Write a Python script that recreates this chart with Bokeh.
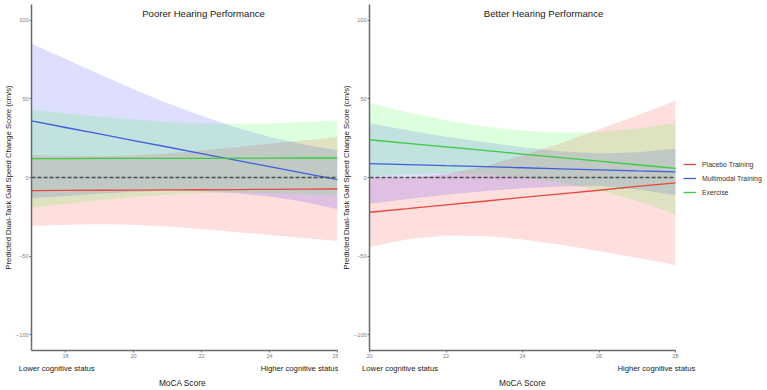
from bokeh.plotting import figure
from bokeh.layouts import row
from bokeh.models import Range1d, LinearAxis, FixedTicker, Label, Legend, LegendItem
from bokeh.embed import file_html
from bokeh.resources import INLINE

# ---------------- data ----------------
groups = ["Placebo Training", "Multimodal Training", "Exercise"]
y_ticks = [-100, -50, 0, 50, 100]
reference_level = 0

# Poorer hearing performance panel
moca_poor = [17, 18, 19, 20, 21, 22, 23, 24, 25, 26]
moca_poor_ticks = [18, 20, 22, 24, 26]
placebo_fit_poor = [-8.3, -8.2, -8.1, -8.0, -7.9, -7.8, -7.7, -7.5, -7.4, -7.3]
placebo_hi_poor = [14.3, 13.6, 13.5, 14.0, 15.3, 17.2, 19.3, 21.5, 23.6, 25.7]
placebo_lo_poor = [-30.9, -30.0, -29.7, -30.0, -31.1, -32.8, -34.7, -36.5, -38.4, -40.3]
multimodal_fit_poor = [36.0, 31.8, 27.7, 23.5, 19.4, 15.2, 11.0, 6.9, 2.8, -1.4]
multimodal_hi_poor = [85.2, 75.3, 65.7, 56.1, 47.2, 39.2, 32.0, 25.9, 21.0, 17.4]
multimodal_lo_poor = [-13.2, -11.7, -10.3, -9.1, -8.4, -8.8, -10.0, -12.1, -15.4, -20.2]
exercise_fit_poor = [12.0, 12.0, 12.1, 12.1, 12.2, 12.2, 12.3, 12.3, 12.4, 12.4]
exercise_hi_poor = [43.3, 40.8, 38.7, 36.8, 35.3, 34.3, 34.1, 34.4, 35.3, 36.4]
exercise_lo_poor = [-19.3, -16.8, -14.5, -12.6, -10.9, -9.9, -9.5, -9.8, -10.5, -11.6]

# Better hearing performance panel
moca_better = [20, 21, 22, 23, 24, 25, 26, 27, 28]
moca_better_ticks = [20, 22, 24, 26, 28]
placebo_fit_better = [-22.1, -19.8, -17.4, -15.1, -12.7, -10.4, -8.1, -5.7, -3.4]
placebo_hi_better = [0.0, -0.4, 2.0, 7.0, 14.0, 22.0, 30.6, 39.6, 48.8]
placebo_lo_better = [-44.2, -39.2, -36.8, -37.2, -39.4, -42.8, -46.8, -51.0, -55.6]
multimodal_fit_better = [8.8, 8.2, 7.5, 6.9, 6.2, 5.5, 4.9, 4.2, 3.6]
multimodal_hi_better = [34.5, 30.0, 25.9, 22.5, 19.3, 16.7, 15.2, 16.0, 18.3]
multimodal_lo_better = [-16.9, -13.6, -10.9, -8.7, -6.9, -5.7, -5.4, -7.6, -11.1]
exercise_fit_better = [24.0, 21.7, 19.5, 17.2, 14.9, 12.6, 10.4, 8.1, 5.8]
exercise_hi_better = [47.3, 41.3, 36.4, 32.4, 29.7, 28.6, 29.0, 31.1, 34.8]
exercise_lo_better = [0.7, 2.1, 2.6, 2.0, 0.1, -3.4, -8.2, -14.9, -23.2]

# ---------------- style ----------------
FONT = "Liberation Sans"
LINE_COLORS = ["#E8473C", "#3F5FDB", "#3CCB3C"]
FILL_COLORS = ["#FF0000", "#0000FF", "#00FF00"]
FILL_ALPHA = 0.13
Y_LABEL = "Predicted Dual-Task Gait Speed Change Score (cm/s)"


def text_axis(ticks, labels, standoff, size):
    ax = LinearAxis(ticker=FixedTicker(ticks=list(ticks)),
                    major_label_overrides=dict(zip(ticks, labels)))
    ax.axis_line_color = None
    ax.major_tick_line_color = None
    ax.minor_tick_line_color = None
    ax.major_tick_in = 0
    ax.major_tick_out = 0
    ax.major_label_standoff = standoff
    ax.major_label_text_font = FONT
    ax.major_label_text_font_size = size
    ax.major_label_text_color = "#1a1a1a"
    return ax


def make_panel(width, bl, br, xr, xbounds, xticks, status_pos, xlabel_pos,
               title, title_x, x, series):
    p = figure(width=width, height=390, x_range=Range1d(*xr), y_range=Range1d(-110, 110),
               output_backend="svg", toolbar_location=None,
               min_border_left=bl, min_border_right=br, min_border_top=4, min_border_bottom=37)
    p.outline_line_color = None
    p.xgrid.visible = False
    p.ygrid.visible = False
    p.background_fill_color = "white"
    p.border_fill_color = "white"

    # main axes
    for ax in (p.xaxis[0], p.yaxis[0]):
        ax.axis_line_color = "#6a6a6a"
        ax.axis_line_width = 1.5
        ax.major_tick_line_color = "#6a6a6a"
        ax.major_tick_in = 0
        ax.major_tick_out = 2
        ax.minor_tick_line_color = None
        ax.major_label_text_font = FONT
        ax.major_label_text_font_size = "5.5px"
        ax.major_label_text_color = "#7a7a7a"
        ax.major_label_standoff = 1
        ax.axis_label_text_font = FONT
        ax.axis_label_text_font_style = "normal"
        ax.axis_label_text_color = "#1a1a1a"
    p.xaxis[0].ticker = FixedTicker(ticks=xticks)
    p.xaxis[0].bounds = xbounds
    p.yaxis[0].ticker = FixedTicker(ticks=y_ticks)
    p.yaxis[0].major_label_standoff = 1
    p.yaxis[0].axis_label = Y_LABEL
    p.yaxis[0].axis_label_text_font_size = "7.7px"
    p.yaxis[0].axis_label_standoff = 0

    # extra bottom rows: cognitive status texts, then the axis title
    p.add_layout(text_axis(status_pos, ["Lower cognitive status", "Higher cognitive status"],
                           3, "7.7px"), "below")
    p.add_layout(text_axis([xlabel_pos], ["MoCA Score"], 2, "8.3px"), "below")

    areas, lines = [], []
    for (fit, lo, hi), lc, fc in zip(series, LINE_COLORS, FILL_COLORS):
        areas.append(p.varea(x=x, y1=lo, y2=hi, fill_color=fc, fill_alpha=FILL_ALPHA))
    for (fit, lo, hi), lc, fc in zip(series, LINE_COLORS, FILL_COLORS):
        lines.append(p.line(x=x, y=fit, line_color=lc, line_width=1.3))

    # dashed zero reference across the panel's data range
    p.line(x=[xbounds[0], xbounds[1]], y=[reference_level, reference_level],
           line_color="#4d4d4d", line_dash="4 2", line_width=1.3)

    p.add_layout(Label(x=title_x, y=104, text=title, text_align="center",
                       text_baseline="middle", text_font=FONT, text_font_size="9.6px",
                       text_color="#1a1a1a"))
    return p, areas, lines


p1, _, _ = make_panel(
    338, 31, 1, (17, 26), (17, 26), moca_poor_ticks, (17.74, 24.9), 21.44,
    "Poorer Hearing Performance", 22.06, moca_poor,
    [(placebo_fit_poor, placebo_lo_poor, placebo_hi_poor),
     (multimodal_fit_poor, multimodal_lo_poor, multimodal_hi_poor),
     (exercise_fit_poor, exercise_lo_poor, exercise_hi_poor)])

# right panel: frame extends to the canvas edge so the legend sits inside it;
# the axis line is bounded to the data range 20..28
p2, areas2, lines2 = make_panel(
    429, 31, 0, (20, 30.405), (20, 28), moca_better_ticks, (20.8, 27.5), 24,
    "Better Hearing Performance", 24.55, moca_better,
    [(placebo_fit_better, placebo_lo_better, placebo_hi_better),
     (multimodal_fit_better, multimodal_lo_better, multimodal_hi_better),
     (exercise_fit_better, exercise_lo_better, exercise_hi_better)])

# legend keys: a light filled box (ribbon) with the fitted line across it
items = []
for g, fc, l in zip(groups, FILL_COLORS, lines2):
    box = p2.quad(left=[], right=[], top=[], bottom=[], fill_color=fc,
                  fill_alpha=FILL_ALPHA, line_color=None)
    items.append(LegendItem(label=g, renderers=[box, l]))
legend = Legend(items=items, location=(314, 153), orientation="vertical",
                glyph_width=13, glyph_height=10, spacing=4, padding=0, margin=0,
                label_standoff=6, label_text_font=FONT, label_text_font_size="6.9px",
                label_text_color="#333333", background_fill_alpha=0,
                border_line_color=None)
p2.add_layout(legend)

layout = row(p1, p2)
open("out.html", "w").write(file_html(layout, INLINE))
